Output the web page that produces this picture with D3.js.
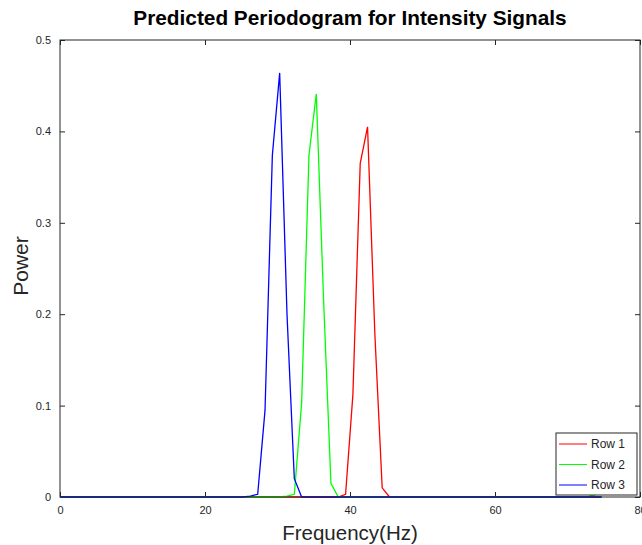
<!DOCTYPE html>
<html>
    <head>
        <script src="https://d3js.org/d3.v7.min.js"></script>
        <style>
            body{
                margin: 0;
                background: white;
                font-family: "Liberation Sans", Arial, Helvetica, sans-serif;
            }
            .tick text{
                font-size: 11px;
                fill: #262626;
            }
        </style>
    </head>
    <body>
        <svg id="chart" width="642" height="545"></svg>
    </body>
    <script>
        // periodogram bins near each peak, flat zero elsewhere
        const row1Freq  = [0, 38.38, 39.39, 40.4, 41.41, 42.42, 43.43, 44.44, 45.45, 74.7]
        const row1Power = [0, 0, 0.003, 0.112, 0.365, 0.405, 0.178, 0.010, 0, 0]
        const row2Freq  = [0, 30.3, 31.31, 32.32, 33.33, 34.34, 35.35, 36.36, 37.37, 38.38, 72.72, 73.4, 74.2, 74.7]
        const row2Power = [0, 0, 0.001, 0.003, 0.103, 0.374, 0.441, 0.215, 0.015, 0, 0, 0.002, 0, 0]
        const row3Freq  = [0, 25.25, 26.26, 27.27, 28.28, 29.29, 30.3, 31.31, 32.32, 33.33, 74.7]
        const row3Power = [0, 0, 0.001, 0.003, 0.095, 0.374, 0.464, 0.20, 0.020, 0, 0]
        const seriesNames = ["Row 1", "Row 2", "Row 3"]
        const colors = ["#ff0000", "#00ff00", "#0000ff"]
        const xTicks = [0, 20, 40, 60, 80]
        const yTicks = [0, 0.1, 0.2, 0.3, 0.4, 0.5]

        const series = [
            row1Freq.map((f, i) => [f, row1Power[i]]),
            row2Freq.map((f, i) => [f, row2Power[i]]),
            row3Freq.map((f, i) => [f, row3Power[i]])
        ]

        const svg = d3.select("#chart")
        const plotLeft = 60, plotRight = 640, plotTop = 40, plotBottom = 497

        const x = d3.scaleLinear().domain([0, 80]).range([plotLeft, plotRight])
        const y = d3.scaleLinear().domain([0, 0.5]).range([plotBottom, plotTop])

        // axes with inward ticks
        svg.append("g")
            .attr("transform", `translate(0,${plotBottom})`)
            .call(d3.axisBottom(x).tickValues(xTicks).tickSize(-5).tickPadding(9).tickFormat(d3.format("d")))
            .call(g => g.select(".domain").remove())
        svg.append("g")
            .attr("transform", `translate(0,${plotTop})`)
            .call(d3.axisTop(x).tickValues(xTicks).tickSize(-5).tickFormat(""))
            .call(g => g.select(".domain").remove())
        svg.append("g")
            .attr("transform", `translate(${plotLeft},0)`)
            .call(d3.axisLeft(y).tickValues(yTicks).tickSize(-5).tickPadding(9).tickFormat(d => d === 0 ? "0" : d3.format(".1f")(d)))
            .call(g => g.select(".domain").remove())
        svg.append("g")
            .attr("transform", `translate(${plotRight},0)`)
            .call(d3.axisRight(y).tickValues(yTicks).tickSize(-5).tickFormat(""))
            .call(g => g.select(".domain").remove())
        svg.selectAll(".tick line").attr("stroke", "#262626")

        const line = d3.line().x(d => x(d[0])).y(d => y(d[1]))

        svg.append("g").selectAll("path")
            .data(series)
            .enter()
            .append("path")
            .attr("d", d => line(d))
            .attr("fill", "none")
            .attr("stroke", (d, i) => colors[i])
            .attr("stroke-width", 1.3)

        svg.append("rect")
            .attr("x", plotLeft).attr("y", plotTop)
            .attr("width", plotRight - plotLeft).attr("height", plotBottom - plotTop)
            .attr("fill", "none")
            .attr("stroke", "#262626")
            .attr("stroke-width", 1)

        // title and labels
        svg.append("text")
            .attr("x", 350).attr("y", 25)
            .attr("text-anchor", "middle")
            .attr("font-size", "20.8px")
            .attr("font-weight", "bold")
            .text("Predicted Periodogram for Intensity Signals")
        svg.append("text")
            .attr("x", 350).attr("y", 540)
            .attr("text-anchor", "middle")
            .attr("font-size", "20.5px")
            .attr("fill", "#262626")
            .text("Frequency(Hz)")
        svg.append("text")
            .attr("transform", "translate(28,266) rotate(-90)")
            .attr("text-anchor", "middle")
            .attr("font-size", "21px")
            .attr("fill", "#262626")
            .text("Power")

        // legend
        const legend = svg.append("g")
        legend.append("rect")
            .attr("x", 556).attr("y", 433)
            .attr("width", 81).attr("height", 62)
            .attr("fill", "white")
            .attr("stroke", "#262626")
        seriesNames.map((name, i) => {
            const ly = 444 + i * 20.5
            legend.append("line")
                .attr("x1", 559).attr("x2", 587)
                .attr("y1", ly).attr("y2", ly)
                .attr("stroke", colors[i])
            legend.append("text")
                .attr("x", 591).attr("y", ly + 4)
                .attr("font-size", "12px")
                .attr("fill", "#262626")
                .text(name)
        })
    </script>
</html>
